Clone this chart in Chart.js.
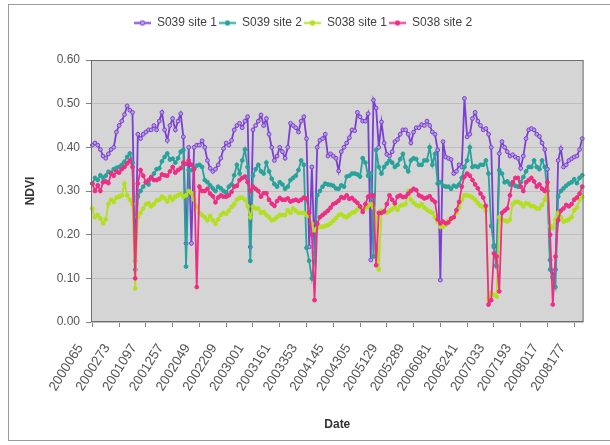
<!DOCTYPE html>
<html>
<head>
<meta charset="utf-8">
<script src="https://cdn.jsdelivr.net/npm/chart.js@4.4.1/dist/chart.umd.min.js"></script>
<style>
  html, body { margin: 0; padding: 0; background: #fff; }
  canvas { display: block; }
</style>
</head>
<body>
<canvas id="ndvi" width="610" height="445"></canvas>
<script>
// 16-day composite dates (yyyyddd), gaps where composites are missing
const dates = [
  '2000065','2000081','2000097','2000113','2000129','2000145','2000161','2000177','2000193','2000257','2000273','2000289','2000305','2000321',
  '2001001','2001017','2001033','2001049','2001065','2001081','2001097','2001113','2001129','2001145','2001161','2001177','2001193','2001209','2001225','2001241','2001257','2001273','2001289','2001305','2001321','2001337','2001353',
  '2002001','2002017','2002033','2002049','2002065','2002081','2002097','2002113','2002129','2002145','2002161','2002177','2002193','2002209','2002225','2002241','2002257','2002273','2002289','2002305','2002321','2002337','2002353',
  '2003001','2003017','2003033','2003049','2003065','2003081','2003097','2003113','2003129','2003145','2003161','2003177','2003193','2003209','2003225','2003241','2003257','2003273','2003289','2003337','2003353',
  '2004001','2004017','2004033','2004049','2004065','2004081','2004097','2004113','2004129','2004145','2004161','2004177','2004193','2004209','2004225','2004241','2004257','2004273','2004289','2004305','2004321',
  '2005001','2005017','2005033','2005049','2005065','2005081','2005097','2005113','2005129','2005145','2005161','2005177','2005193','2005209','2005225','2005241','2005257','2005273','2005289','2005305','2005321','2005337','2005353',
  '2006001','2006017','2006033','2006049','2006065','2006081','2006097','2006113','2006129','2006145','2006161','2006177','2006193','2006209','2006225','2006241','2006257','2006273','2006289','2006305','2006321','2006337','2006353',
  '2007001','2007017','2007033','2007049','2007065','2007081','2007097','2007113','2007129','2007145','2007161','2007177','2007193','2007209','2007225','2007241','2007257','2007273','2007289','2007305','2007353',
  '2008001','2008017','2008033','2008049','2008065','2008081','2008097','2008113','2008129','2008145','2008161','2008177','2008193','2008209','2008225'
];

const s039site1 = [
  .405,.41,.405,.395,.38,.375,.385,.395,.40,.435,
  .45,.46,.475,.495,.485,.48,.12,.43,.42,.43,
  .435,.44,.44,.45,.44,.46,.48,.44,.416,.45,
  .466,.44,.46,.477,.424,.18,.40,.18,.40,.405,
  .405,.415,.40,.37,.352,.345,.35,.36,.375,.397,
  .41,.405,.416,.44,.45,.455,.445,.46,.47,.172,
  .44,.45,.46,.474,.45,.466,.43,.40,.37,.38,
  .40,.39,.375,.40,.455,.45,.445,.435,.46,.47,
  .42,.172,.355,.157,.40,.416,.42,.43,.38,.385,
  .38,.375,.346,.39,.40,.41,.422,.44,.438,.48,
  .47,.46,.46,.477,.142,.508,.49,.40,.458,.41,
  .384,.38,.39,.413,.418,.43,.44,.44,.43,.41,
  .435,.445,.445,.452,.45,.46,.45,.435,.43,.394,
  .096,.413,.378,.375,.372,.34,.345,.36,.355,.512,
  .424,.43,.466,.48,.46,.45,.44,.443,.43,.40,
  .172,.13,.386,.413,.40,.39,.38,.383,.378,.375,
  .352,.38,.42,.44,.443,.44,.43,.425,.41,.395,
  .35,.142,.104,.12,.37,.397,.355,.36,.37,.374,
  .378,.38,.395,.42
];
const s039site2 = [
  .317,.33,.325,.336,.33,.335,.344,.342,.35,.353,
  .355,.36,.367,.378,.386,.365,.14,.287,.30,.31,
  .32,.315,.33,.34,.35,.352,.368,.378,.386,.372,
  .374,.365,.375,.39,.394,.127,.348,.348,.352,.358,
  .36,.355,.325,.32,.313,.306,.30,.31,.306,.30,
  .296,.31,.315,.336,.36,.34,.37,.395,.355,.14,
  .335,.35,.36,.345,.34,.365,.345,.328,.316,.31,
  .32,.315,.305,.31,.325,.33,.335,.348,.37,.36,
  .17,.14,.10,.14,.29,.30,.31,.317,.315,.314,
  .312,.306,.305,.313,.31,.333,.335,.34,.34,.338,
  .333,.375,.365,.335,.34,.15,.394,.355,.34,.355,
  .363,.37,.365,.355,.36,.373,.385,.355,.345,.37,
  .375,.373,.36,.36,.37,.37,.40,.36,.385,.317,
  .32,.312,.31,.31,.305,.312,.31,.315,.33,.355,
  .37,.40,.355,.357,.355,.36,.36,.37,.34,.22,
  .176,.127,.348,.34,.32,.322,.315,.317,.312,.31,
  .32,.332,.345,.355,.355,.37,.355,.35,.37,.355,
  .30,.12,.10,.08,.287,.30,.306,.312,.317,.32,
  .327,.318,.33,.336
];
const s038site1 = [
  .26,.24,.245,.237,.226,.235,.27,.28,.275,.285,
  .287,.29,.317,.29,.28,.27,.077,.24,.25,.26,
  .27,.272,.265,.27,.278,.28,.287,.283,.276,.287,
  .28,.287,.29,.294,.287,.29,.30,.295,.28,.265,
  .25,.245,.24,.233,.243,.233,.225,.235,.245,.25,
  .248,.255,.264,.27,.28,.284,.285,.28,.265,.24,
  .264,.26,.26,.25,.252,.245,.24,.233,.235,.24,
  .245,.245,.245,.256,.25,.26,.255,.25,.25,.25,
  .245,.243,.225,.21,.215,.218,.218,.22,.222,.226,
  .232,.238,.245,.247,.242,.24,.245,.25,.252,.258,
  .264,.258,.26,.265,.27,.262,.24,.12,.255,.252,
  .25,.255,.258,.264,.257,.266,.268,.27,.30,.28,
  .273,.268,.265,.27,.262,.257,.253,.25,.24,.23,
  .218,.218,.222,.232,.235,.24,.25,.262,.28,.29,
  .29,.288,.285,.28,.272,.266,.264,.255,.054,.066,
  .062,.058,.24,.235,.232,.23,.235,.27,.275,.275,
  .272,.265,.272,.27,.265,.265,.26,.26,.268,.28,
  .306,.22,.215,.235,.25,.24,.23,.232,.235,.24,
  .256,.262,.28,.287
];
const s038site2 = [
  .317,.30,.313,.30,.32,.322,.318,.34,.335,.345,
  .342,.35,.355,.363,.37,.355,.10,.317,.348,.335,
  .32,.325,.332,.325,.325,.328,.338,.336,.335,.345,
  .355,.342,.348,.352,.365,.362,.37,.36,.35,.08,
  .31,.30,.30,.305,.294,.288,.274,.285,.29,.287,
  .287,.29,.298,.31,.312,.325,.33,.333,.32,.30,
  .31,.305,.30,.287,.295,.295,.28,.271,.266,.277,
  .284,.28,.28,.283,.276,.278,.28,.277,.28,.285,
  .283,.25,.20,.05,.225,.24,.245,.25,.255,.262,
  .27,.273,.278,.286,.284,.29,.282,.284,.278,.273,
  .265,.252,.27,.287,.29,.29,.13,.25,.25,.253,
  .27,.29,.28,.272,.287,.29,.286,.287,.294,.30,
  .305,.302,.29,.287,.283,.285,.288,.28,.275,.235,
  .226,.23,.226,.228,.237,.24,.256,.275,.31,.333,
  .34,.335,.325,.315,.306,.294,.285,.266,.04,.05,
  .157,.15,.07,.25,.255,.26,.29,.32,.33,.33,
  .31,.30,.32,.325,.33,.322,.31,.315,.305,.30,
  .32,.20,.04,.15,.233,.255,.26,.268,.265,.27,
  .28,.285,.294,.31
];

const yTicks = [0, 0.1, 0.2, 0.3, 0.4, 0.5, 0.6];

Chart.defaults.font.family = '"Liberation Sans", Arial, sans-serif';
Chart.defaults.font.size = 12;

// little "line + marker" swatch for the legend
function swatch(color, fill) {
  const c = document.createElement('canvas');
  c.width = 17; c.height = 9;
  const g = c.getContext('2d');
  g.strokeStyle = color; g.lineWidth = 2;
  g.beginPath(); g.moveTo(0, 4.5); g.lineTo(17, 4.5); g.stroke();
  g.fillStyle = fill; g.lineWidth = 1;
  g.beginPath(); g.arc(8.5, 4.5, 2.3, 0, Math.PI * 2); g.fill(); g.stroke();
  return c;
}

function ser(label, data, color, fill, order) {
  return {
    label, data, order,
    borderColor: color, backgroundColor: color,
    borderWidth: 1.8, tension: 0,
    pointRadius: 1.9, pointBorderWidth: 1,
    pointBackgroundColor: fill, pointBorderColor: color,
    legendMark: swatch(color, fill)
  };
}

const frame = {
  id: 'frame',
  beforeDraw(chart) {
    const { ctx, chartArea: a } = chart;
    ctx.save();
    ctx.fillStyle = '#fff';
    ctx.fillRect(0, 0, chart.width, chart.height);
    ctx.strokeStyle = '#9a9a9a'; ctx.lineWidth = 1;
    ctx.strokeRect(8.5, 4.5, chart.width, 436);
    ctx.fillStyle = '#d5d5d5';
    ctx.fillRect(a.left, a.top, a.right - a.left, a.bottom - a.top);
    ctx.restore();
  },
  afterDraw(chart) {
    const { ctx, chartArea: a } = chart;
    ctx.save();
    ctx.strokeStyle = '#6e6e6e'; ctx.lineWidth = 1;
    ctx.strokeRect(a.left + 0.5, a.top + 0.5, a.right - a.left - 1, a.bottom - a.top - 1);
    ctx.restore();
  }
};

new Chart(document.getElementById('ndvi'), {
  type: 'line',
  data: {
    labels: dates,
    datasets: [
      ser('S039 site 1', s039site1, '#7b3fcf', '#b89de6', 4),
      ser('S039 site 2', s039site2, '#27a39c', '#27a39c', 3),
      ser('S038 site 1', s038site1, '#b3e01e', '#b3e01e', 2),
      ser('S038 site 2', s038site2, '#ee2d85', '#ee2d85', 1)
    ]
  },
  options: {
    responsive: false,
    animation: false,
    layout: { padding: { left: 0, right: 4, top: 15, bottom: 0 } },
    plugins: {
      legend: {
        position: 'top',
        weight: 3000,
        labels: {
          usePointStyle: true,
          pointStyleWidth: 17,
          padding: 2,
          color: '#404040',
          font: { size: 12 },
          sort: (a, b) => a.datasetIndex - b.datasetIndex,
          generateLabels(chart) {
            const items = Chart.defaults.plugins.legend.labels.generateLabels(chart);
            items.forEach(it => { it.pointStyle = chart.data.datasets[it.datasetIndex].legendMark; });
            return items;
          }
        }
      },
      // empty title used as spacer between legend and plot
      title: { display: true, text: '', weight: 500, font: { size: 10 }, padding: { top: 0, bottom: 9 } },
      tooltip: { enabled: false }
    },
    scales: {
      x: {
        offset: true,
        afterFit: s => { s.height = 123; },
        grid: {
          drawOnChartArea: false, drawTicks: true, tickLength: 5,
          tickColor: c => (c.index % 10 === 0 ? '#808080' : 'rgba(0,0,0,0)')
        },
        border: { display: false },
        ticks: {
          autoSkip: false, minRotation: 58, maxRotation: 58,
          padding: 14, labelOffset: -12,
          color: '#555', font: { size: 13.5 },
          callback: function (v, i) { return i % 10 === 0 ? this.getLabelForValue(v) : ''; }
        },
        title: { display: true, text: 'Date', color: '#333', font: { size: 12, weight: 'bold' }, padding: { top: 0, bottom: 13 } }
      },
      y: {
        min: 0, max: 0.6,
        afterFit: s => { s.width = 91; },
        afterBuildTicks: s => { s.ticks = yTicks.map(v => ({ value: v })); },
        grid: { color: '#bfbfbf', drawTicks: true, tickLength: 5, tickColor: '#808080' },
        border: { display: false },
        ticks: { padding: 6, color: '#555', font: { size: 12 }, callback: v => v.toFixed(2) },
        title: { display: true, text: 'NDVI', color: '#333', font: { size: 12, weight: 'bold' }, padding: { top: 23, bottom: 0 } }
      }
    }
  },
  plugins: [frame]
});
</script>
</body>
</html>
